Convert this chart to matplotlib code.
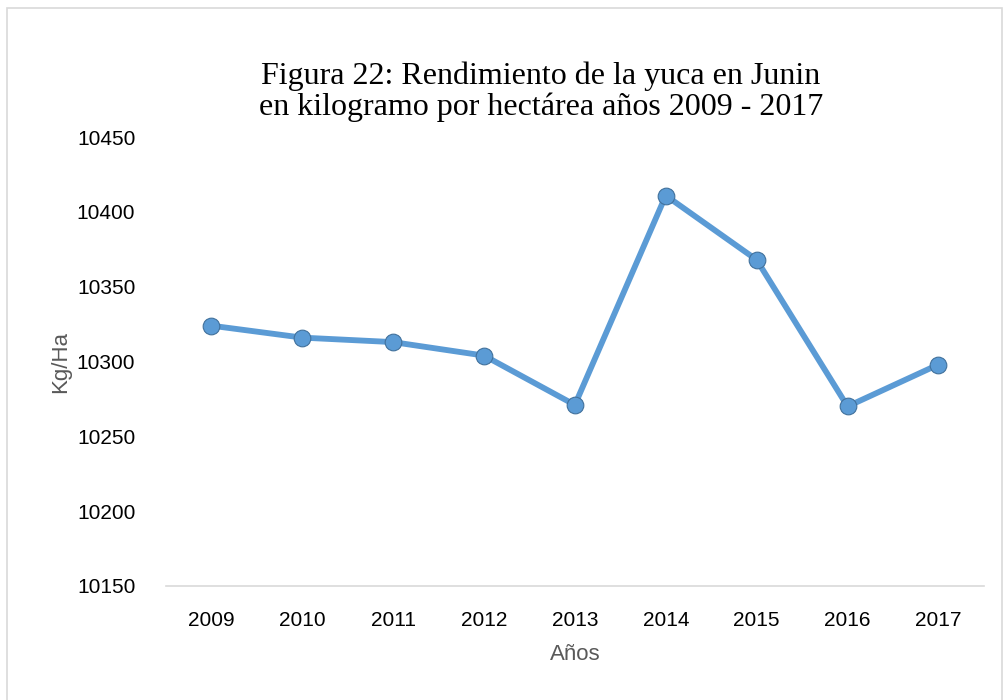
import matplotlib
matplotlib.use("Agg")
import matplotlib.pyplot as plt
from matplotlib.patches import Rectangle

# Rendimiento de la yuca en Junin (Kg/Ha)
years = ["2009", "2010", "2011", "2012", "2013", "2014", "2015", "2016", "2017"]
rendimiento = [10324, 10316, 10313, 10304, 10271, 10411, 10368, 10270, 10298]
yticks = [10150, 10200, 10250, 10300, 10350, 10400, 10450]

fig = plt.figure(figsize=(10.05, 7), dpi=100)
ax = fig.add_axes([0.165, 0.163, 0.814, 0.641])

x = list(range(len(years)))
ax.plot(x, rendimiento, color="#5B9BD5", lw=4.2, marker="o", ms=12,
        mfc="#5B9BD5", mec="#41719C", mew=0.8, solid_capstyle="round", zorder=3)

ax.set_xlim(-0.5, len(years) - 0.5)
ax.set_ylim(10150, 10450)
ax.set_xticks(x)
ax.set_xticklabels(years)
ax.set_yticks(yticks)

for s in ["top", "right", "left"]:
    ax.spines[s].set_visible(False)
ax.spines["bottom"].set_color("#D9D9D9")
ax.spines["bottom"].set_linewidth(1.2)
ax.tick_params(length=0, labelsize=15, colors="black")
ax.tick_params(axis="x", pad=18)
ax.tick_params(axis="y", pad=22)
for lab in ax.get_xticklabels() + ax.get_yticklabels():
    lab.set_family("Liberation Sans")

ax.set_ylabel("Kg/Ha", fontsize=16, color="#595959", family="Liberation Sans", labelpad=4)
ax.set_xlabel("Años", fontsize=16, color="#595959", family="Liberation Sans", labelpad=10)

fig.text(0.538, 0.869, "Figura 22: Rendimiento de la yuca en Junin\nen kilogramo por hectárea años 2009 - 2017",
         ha="center", va="center", fontsize=23, family="Liberation Serif",
         linespacing=1.05)

fig.patches.append(Rectangle((0.007, -0.02), 0.99, 1.008, transform=fig.transFigure,
                             fill=False, edgecolor="#D9D9D9", lw=1.2))

fig.savefig("out.png", dpi=100)
